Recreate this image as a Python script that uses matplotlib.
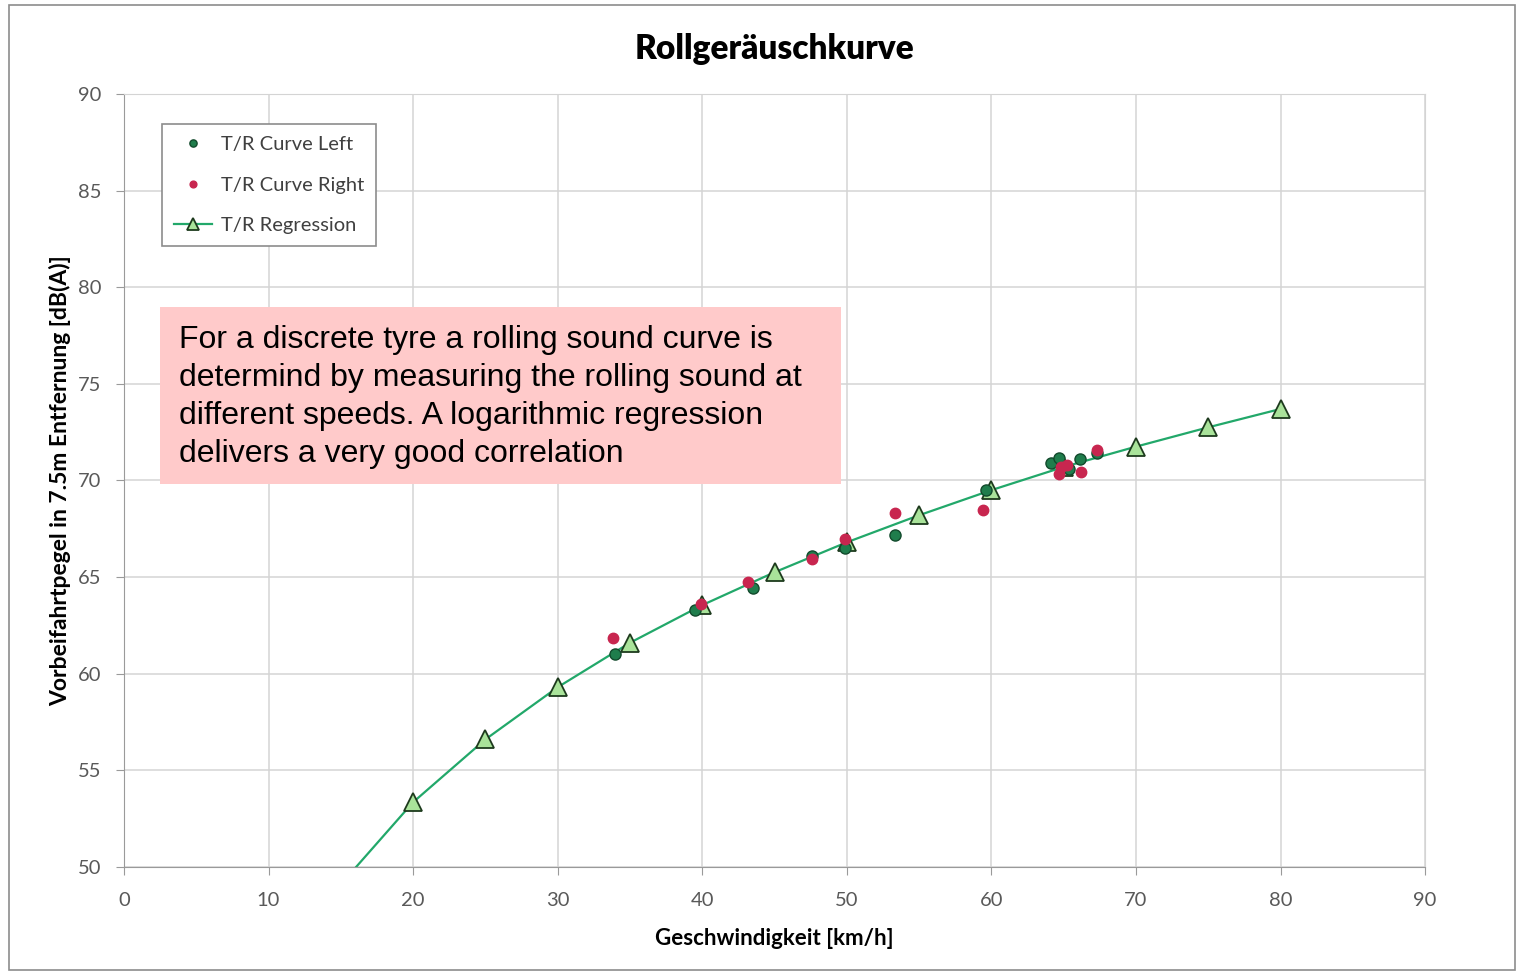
import matplotlib.pyplot as plt
from matplotlib.patches import Rectangle

# measured pass-by levels, left and right side
left_speed = [34.0, 39.5, 43.5, 47.6, 49.9, 53.3, 59.6, 64.1, 64.7, 65.4, 66.1, 67.3]
left_level = [61.0, 63.3, 64.45, 66.1, 66.5, 67.2, 69.5, 70.9, 71.15, 70.6, 71.1, 71.4]
right_speed = [33.8, 39.9, 43.2, 47.6, 49.9, 53.3, 59.4, 64.8, 65.2, 64.7, 66.2, 67.3]
right_level = [61.85, 63.6, 64.75, 65.95, 66.95, 68.3, 68.45, 70.7, 70.8, 70.35, 70.45, 71.6]

# logarithmic regression values
reg_speed = [15, 20, 25, 30, 35, 40, 45, 50, 55, 60, 65, 70, 75, 80]
reg_level = [49.1, 53.35, 56.6, 59.3, 61.6, 63.55, 65.25, 66.8, 68.2, 69.5, 70.7, 71.75, 72.75, 73.7]

xticks = list(range(0, 91, 10))
yticks = list(range(50, 91, 5))

note = ("For a discrete tyre a rolling sound curve is\n"
        "determind by measuring the rolling sound at\n"
        "different speeds. A logarithmic regression\n"
        "delivers a very good correlation")

plt.rcParams['font.family'] = ['Lato', 'DejaVu Sans']

fig = plt.figure(figsize=(15.23, 9.74), dpi=100)
ax = fig.add_axes([0.0814, 0.1099, 0.8543, 0.7936])

# outer chart border
fig.patches.append(Rectangle((0.006, 0.004), 0.989, 0.991, transform=fig.transFigure,
                             fill=False, edgecolor='#8c8c8c', linewidth=1.2))

ax.plot(reg_speed, reg_level, color='#22a86a', linewidth=1.6, marker='^', markersize=13,
        markerfacecolor='#a9e39a', markeredgecolor='#1d3a1d', markeredgewidth=1.3,
        label='T/R Regression', zorder=3)
ax.plot(left_speed, left_level, linestyle='none', marker='o', markersize=8,
        markerfacecolor='#1f7d4c', markeredgecolor='#124a2c', markeredgewidth=1.0,
        label='T/R Curve Left', zorder=4)
ax.plot(right_speed, right_level, linestyle='none', marker='o', markersize=7.5,
        markerfacecolor='#c8264f', markeredgecolor='#c8264f',
        label='T/R Curve Right', zorder=5)

ax.set_xlim(0, 90)
ax.set_ylim(50, 90)
ax.set_xticks(xticks)
ax.set_yticks(yticks)
ax.grid(True, color='#d4d4d4', linewidth=1.1)
ax.set_axisbelow(True)
for s in ax.spines.values():
    s.set_color('#d4d4d4')
ax.spines['left'].set_color('#9a9a9a')
ax.spines['bottom'].set_color('#9a9a9a')
ax.tick_params(axis='both', colors='#9a9a9a', labelcolor='#595959', labelsize=14.5, length=6)
ax.tick_params(axis='x', pad=12)
ax.tick_params(axis='y', pad=10)

ax.set_title('Rollgeräuschkurve', fontsize=24, fontweight='heavy', pad=25)
ax.set_xlabel('Geschwindigkeit [km/h]', fontsize=16, fontweight='bold', labelpad=14)
ax.set_ylabel('Vorbeifahrtpegel in 7.5m Entfernung [dB(A)]', fontsize=16.5, fontweight='bold', labelpad=5)

h, l = ax.get_legend_handles_labels()
order = [1, 2, 0]
leg = ax.legend([h[i] for i in order], [l[i] for i in order], loc='upper left',
                bbox_to_anchor=(0.029, 0.961), borderaxespad=0, fontsize=14.5,
                fancybox=False, framealpha=1, edgecolor='#8c8c8c', borderpad=0.6,
                labelspacing=1.15, handlelength=1.9, handletextpad=0.45, markerscale=0.65)
leg.get_frame().set_linewidth(1.2)
for t in leg.get_texts():
    t.set_color('#404040')

# pink annotation box
ax.add_patch(Rectangle((0.0277, 0.496), 0.5235, 0.228, transform=ax.transAxes,
                       facecolor='#ffcaca', edgecolor='none', zorder=6))
ax.text(0.0423, 0.701, note, transform=ax.transAxes, fontsize=23, family='Liberation Sans',
        va='top', ha='left', linespacing=1.345, color='black', zorder=7)

fig.savefig('out.png', dpi=100)
